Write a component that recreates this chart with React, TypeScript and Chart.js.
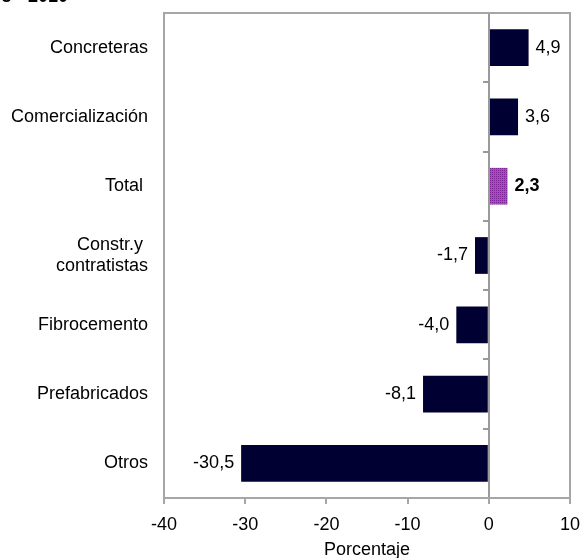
import React, { useEffect, useRef } from "react";
import { Chart, registerables } from "chart.js";

Chart.register(...registerables);

const categories: (string | string[])[] = [
  "Concreteras",
  "Comercialización",
  "Total ",
  ["Constr.y ", "contratistas"],
  "Fibrocemento",
  "Prefabricados",
  "Otros",
];
const values = [4.9, 3.6, 2.3, -1.7, -4.0, -8.1, -30.5];
const valueLabels = ["4,9", "3,6", "2,3", "-1,7", "-4,0", "-8,1", "-30,5"];
const highlightIndex = 2;
const xMin = -40;
const xMax = 10;
const xStep = 10;
const xTitle = "Porcentaje";
const headerText = "o - 2010";

const FONT = "'Liberation Sans', Arial, sans-serif";

function makePattern(): CanvasPattern | string {
  const c = document.createElement("canvas");
  c.width = 2;
  c.height = 2;
  const g = c.getContext("2d");
  if (!g) return "#a82cbc";
  g.fillStyle = "#c43ccf";
  g.fillRect(0, 0, 2, 2);
  g.fillStyle = "#7a2294";
  g.fillRect(0, 0, 1, 1);
  const p = g.createPattern(c, "repeat");
  return p || "#a82cbc";
}

export default function App() {
  const ref = useRef<HTMLCanvasElement | null>(null);

  useEffect(() => {
    const canvas = ref.current;
    if (!canvas) return;
    const pattern = makePattern();
    const colors = values.map((_, i) => (i === highlightIndex ? pattern : "#000033"));

    const overlay = {
      id: "overlay",
      afterDatasetsDraw(chart: any) {
        const { ctx, chartArea } = chart;
        const xs = chart.scales.x;
        const n = categories.length;
        ctx.save();
        // zero line
        const x0 = Math.round(xs.getPixelForValue(0));
        ctx.strokeStyle = "#9a9a9a";
        ctx.lineWidth = 2;
        ctx.beginPath();
        ctx.moveTo(x0, chartArea.top);
        ctx.lineTo(x0, chartArea.bottom);
        ctx.stroke();
        // small ticks at category boundaries
        const h = (chartArea.bottom - chartArea.top) / n;
        for (let i = 1; i < n; i++) {
          const y = Math.round(chartArea.top + i * h);
          ctx.beginPath();
          ctx.moveTo(x0 - 6, y);
          ctx.lineTo(x0, y);
          ctx.stroke();
        }
        // plot border
        ctx.strokeStyle = "#a6a6a6";
        ctx.strokeRect(chartArea.left, chartArea.top, chartArea.right - chartArea.left, chartArea.bottom - chartArea.top);
        // value labels
        const meta = chart.getDatasetMeta(0);
        ctx.fillStyle = "#000";
        ctx.textBaseline = "middle";
        meta.data.forEach((bar: any, i: number) => {
          const v = values[i];
          ctx.font = (i === highlightIndex ? "bold " : "") + "18px " + FONT;
          if (v >= 0) {
            ctx.textAlign = "left";
            ctx.fillText(valueLabels[i], bar.x + 7, bar.y);
          } else {
            ctx.textAlign = "right";
            ctx.fillText(valueLabels[i], bar.x - 7, bar.y);
          }
        });
        ctx.restore();
      },
    };

    const chart = new Chart(canvas, {
      type: "bar",
      data: {
        labels: categories as any,
        datasets: [
          {
            data: values,
            backgroundColor: colors as any,
            borderWidth: 0,
            categoryPercentage: 1,
            barPercentage: 0.53,
          },
        ],
      },
      options: {
        indexAxis: "y",
        animation: false,
        responsive: false,
        maintainAspectRatio: false,
        events: [],
        layout: { padding: { top: 13, right: 11, left: 0, bottom: 0 } },
        plugins: { legend: { display: false }, tooltip: { enabled: false }, title: { display: false } },
        scales: {
          x: {
            type: "linear",
            min: xMin,
            max: xMax,
            ticks: {
              stepSize: xStep,
              color: "#000",
              font: { family: FONT, size: 18 },
              padding: 10,
              maxRotation: 0,
            },
            grid: {
              color: "rgba(0,0,0,0)",
              tickColor: "#a6a6a6",
              tickLength: 6,
              lineWidth: 2,
              drawTicks: true,
            },
            border: { display: false },
            title: {
              display: true,
              text: xTitle,
              color: "#000",
              font: { family: FONT, size: 18 },
              padding: { top: 0, bottom: -3 },
            },
            afterFit(scale: any) {
              scale.height = 60;
              scale.paddingLeft = 0;
              scale.paddingRight = 0;
            },
          },
          y: {
            type: "category",
            ticks: {
              color: "#000",
              font: { family: FONT, size: 18 },
              padding: 16,
              autoSkip: false,
            },
            grid: { display: false, drawTicks: false },
            border: { display: false },
            afterFit(scale: any) {
              scale.width = 164;
              scale.paddingTop = 0;
              scale.paddingBottom = 0;
            },
          },
        },
      },
      plugins: [overlay],
    });
    return () => chart.destroy();
  }, []);

  return (
    <div style={{ position: "fixed", left: 0, top: 0, width: 581, height: 558, background: "#fff", overflow: "hidden" }}>
      <canvas ref={ref} width={581} height={558} style={{ display: "block", width: 581, height: 558 }} />
      <div
        style={{
          position: "absolute",
          left: 1,
          top: -13,
          font: "bold 18px " + FONT,
          lineHeight: "18px",
          whiteSpace: "pre",
          color: "#000",
        }}
      >
        {headerText}
      </div>
    </div>
  );
}
